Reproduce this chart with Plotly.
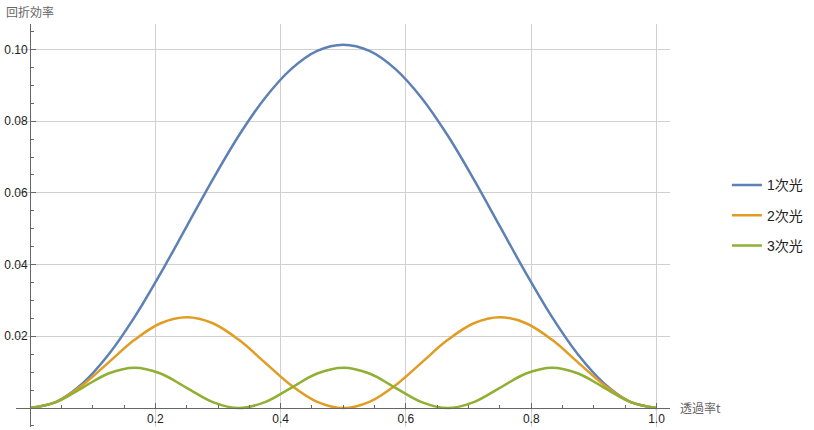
import plotly.graph_objects as go

# transmittance t (samples)
t = [0, 0.0417, 0.0833, 0.125, 0.1667, 0.2083, 0.25, 0.2917, 0.3333, 0.375, 0.4167, 0.4583, 0.5,
     0.5417, 0.5833, 0.625, 0.6667, 0.7083, 0.75, 0.7917, 0.8333, 0.875, 0.9167, 0.9583, 1.0]

eta1 = [0, 0.00173, 0.00679, 0.01484, 0.02533, 0.03755, 0.05066, 0.06377, 0.07599, 0.08648, 0.09453, 0.09960, 0.10132,
        0.09960, 0.09453, 0.08648, 0.07599, 0.06377, 0.05066, 0.03755, 0.02533, 0.01484, 0.00679, 0.00173, 0]
eta2 = [0, 0.00170, 0.00633, 0.01267, 0.01900, 0.02363, 0.02533, 0.02363, 0.01900, 0.01267, 0.00633, 0.00170, 0,
        0.00170, 0.00633, 0.01267, 0.01900, 0.02363, 0.02533, 0.02363, 0.01900, 0.01267, 0.00633, 0.00170, 0]
eta3 = [0, 0.00165, 0.00563, 0.00961, 0.01126, 0.00961, 0.00563, 0.00165, 0,
        0.00165, 0.00563, 0.00961, 0.01126, 0.00961, 0.00563, 0.00165, 0,
        0.00165, 0.00563, 0.00961, 0.01126, 0.00961, 0.00563, 0.00165, 0]

names = ["1次光", "2次光", "3次光"]
colors = ["#5E81B5", "#E19C24", "#8FB032"]

x_ticks = [0.2, 0.4, 0.6, 0.8, 1.0]
x_labels = ["0.2", "0.4", "0.6", "0.8", "1.0"]
y_ticks = [0.02, 0.04, 0.06, 0.08, 0.10]
y_labels = ["0.02", "0.04", "0.06", "0.08", "0.10"]

xr = [-0.0225, 1.0215]
yr = [-0.0053, 0.1071]

fig = go.Figure()
for i, (ys, nm, c) in enumerate(zip([eta1, eta2, eta3], names, colors)):
    fig.add_trace(go.Scatter(x=t, y=ys, name=nm, mode="lines",
                             line=dict(color=c, width=2.5, shape="spline"),
                             legendgroup=f"g{i}"))

xpos = (0 - yr[0]) / (yr[1] - yr[0])
ypos = (0 - xr[0]) / (xr[1] - xr[0])

tickfont = dict(family="Liberation Sans, Arial", size=12, color="#222")
fig.update_layout(
    width=814, height=430,
    margin=dict(l=16, r=144, t=24, b=3),
    plot_bgcolor="white", paper_bgcolor="white",
    xaxis=dict(range=xr, anchor="free", position=xpos, showline=True, linecolor="#666", linewidth=1,
               automargin=False,
               tickvals=x_ticks, ticktext=x_labels, ticks="inside", ticklen=5, tickcolor="#666",
               showgrid=True, gridcolor="#d0d0d0", gridwidth=1, zeroline=False,
               minor=dict(dtick=0.05, tick0=0, ticks="inside", ticklen=3, tickcolor="#666", showgrid=False),
               tickfont=tickfont),
    yaxis=dict(range=yr, anchor="free", position=ypos, showline=True, linecolor="#666", linewidth=1,
               automargin=False,
               tickvals=y_ticks, ticktext=y_labels, ticks="inside", ticklen=5, tickcolor="#666",
               showgrid=True, gridcolor="#d0d0d0", gridwidth=1, zeroline=False,
               minor=dict(dtick=0.005, tick0=0, ticks="inside", ticklen=3, tickcolor="#666", showgrid=False),
               tickfont=tickfont),
    legend=dict(x=1.087, y=0.525, xanchor="left", yanchor="middle", tracegroupgap=9,
                font=dict(family="Liberation Sans, Noto Sans CJK JP", size=14, color="#222"),
                bgcolor="rgba(0,0,0,0)"),
    showlegend=True,
)

fig.add_annotation(text="回折効率", xref="paper", yref="paper", x=-0.018, y=1.0, xanchor="left", yanchor="bottom",
                   yshift=2, showarrow=False,
                   font=dict(family="Noto Sans CJK JP", size=12, color="#666"))
fig.add_annotation(text="透過率t", xref="paper", yref="paper", x=1.0, y=xpos, xanchor="left", yanchor="middle",
                   xshift=8, showarrow=False,
                   font=dict(family="Noto Sans CJK JP", size=12, color="#666"))

fig.write_html("out.html", config={"displayModeBar": False},
               post_script="document.body.style.margin='0';")
